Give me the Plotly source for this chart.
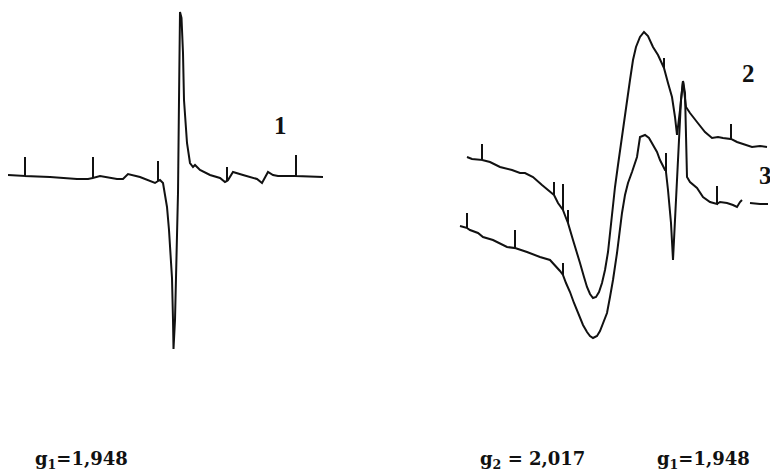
import plotly.graph_objects as go

# The short vertical spikes are the field calibration marks on the recorder trace.

spectrum_1 = [
    (8, 298), (25, 297), (25, 316), (25, 297), (50, 296), (77, 294), (88, 294), (93, 295), (93, 316),
    (93, 295), (100, 297), (117, 294), (123, 294), (128, 299), (140, 296), (152, 291), (155, 290),
    (158, 292), (158, 312), (158, 292), (160, 293), (163, 290), (165, 278), (167, 266), (169, 243),
    (171, 215), (172, 195), (173, 153), (173.5, 124), (175, 153), (176, 203), (177, 243), (178, 280),
    (179, 373), (180, 461), (181.5, 455), (183, 420), (184, 373), (185.5, 345), (187, 330), (190, 310),
    (193, 306), (195, 308), (200, 303), (210, 298), (220, 295), (225, 291), (227, 292), (227, 306),
    (227, 292), (228, 293), (233, 301), (243, 298), (257, 294), (262, 290), (265, 295), (268, 301),
    (273, 298), (278, 297), (295, 297), (296, 297), (296, 318), (296, 297), (323, 296),
]

spectrum_2 = [
    (467, 316), (472, 314), (482, 313), (482, 329), (482, 313), (490, 311), (500, 306), (512, 303),
    (520, 300), (525, 300), (533, 296), (542, 288), (548, 283), (554, 278), (554, 291), (554, 278),
    (558, 270), (563, 263), (563, 289), (563, 263), (566, 255), (568, 250), (568, 263), (568, 250),
    (573, 233), (577, 221), (580, 210), (584, 196), (587, 186), (590, 179), (593, 175), (596, 176),
    (599, 181), (602, 190), (605, 203), (608, 221), (610, 240), (613, 265), (615, 286), (618, 308),
    (620, 323), (624, 351), (627, 373), (630, 393), (633, 413), (636, 426), (640, 436), (644, 441),
    (648, 437), (653, 426), (658, 418), (662, 410), (664, 405), (664, 415), (664, 405), (668, 390),
    (672, 376), (675, 356), (677, 338), (680, 363), (683, 392), (686, 366), (690, 360), (697, 351),
    (705, 341), (712, 335), (718, 336), (723, 335), (730, 334), (731, 334), (731, 349), (731, 334),
    (737, 331), (743, 329), (752, 326), (760, 327), (767, 326),
]

spectrum_3 = [
    (460, 247), (465, 246), (467, 245), (467, 260), (467, 245), (470, 243), (478, 240), (483, 236),
    (493, 233), (507, 226), (515, 225), (515, 243), (515, 225), (527, 221), (540, 216), (550, 213),
    (555, 208), (560, 202), (563, 198), (563, 210), (563, 198), (566, 190), (570, 181), (574, 170),
    (578, 160), (583, 148), (587, 141), (590, 137), (593, 135), (597, 137), (600, 142), (603, 149),
    (607, 160), (610, 176), (613, 193), (617, 220), (620, 245), (622, 260), (625, 278), (628, 290),
    (632, 301), (637, 316), (640, 336), (645, 338), (649, 335), (653, 328), (657, 321), (660, 313),
    (665, 303), (666, 303), (666, 320), (666, 301), (668, 283), (671, 250), (673, 213), (675, 256),
    (678, 323), (681, 373), (683, 392), (685, 380), (687, 296), (690, 291), (697, 285), (703, 276),
    (710, 271), (715, 269), (717, 269), (717, 287), (717, 269), (720, 271), (727, 270), (733, 268),
    (737, 266), (740, 271), (742, 273), (None, None), (750, 270), (760, 269), (768, 269),
]

trace_labels = ["1", "2", "3"]
label_field = [280, 748, 765]
label_signal = [348, 400, 298]

g_texts = ["g<sub>1</sub>=1,948", "g<sub>2</sub> = 2,017", "g<sub>1</sub>=1,948"]
g_field = [33, 478, 655]
g_signal = [13, 13, 13]

ink = "#111111"

fig = go.Figure()
for spectrum in (spectrum_1, spectrum_2, spectrum_3):
    fx = [p[0] for p in spectrum]
    sy = [p[1] for p in spectrum]
    fig.add_trace(go.Scatter(
        x=fx, y=sy, mode="lines",
        line=dict(color=ink, width=2),
        connectgaps=False, hoverinfo="skip", showlegend=False,
    ))

for t, x, y in zip(trace_labels, label_field, label_signal):
    fig.add_annotation(
        x=x, y=y, xref="x", yref="y", text="<b>" + t + "</b>", showarrow=False,
        xanchor="center", yanchor="middle",
        font=dict(family="Liberation Serif", size=25, color=ink),
    )

for t, x, y in zip(g_texts, g_field, g_signal):
    fig.add_annotation(
        x=x, y=y, xref="x", yref="y", text="<b>" + t + "</b>", showarrow=False,
        xanchor="left", yanchor="middle",
        font=dict(family="DejaVu Serif", size=18, color=ink),
    )

fig.update_layout(
    width=770, height=473,
    margin=dict(l=0, r=0, t=0, b=0),
    paper_bgcolor="white", plot_bgcolor="white",
    xaxis=dict(range=[0, 770], visible=False, fixedrange=True),
    yaxis=dict(range=[0, 473], visible=False, fixedrange=True),
)

fig.write_html("out.html")
